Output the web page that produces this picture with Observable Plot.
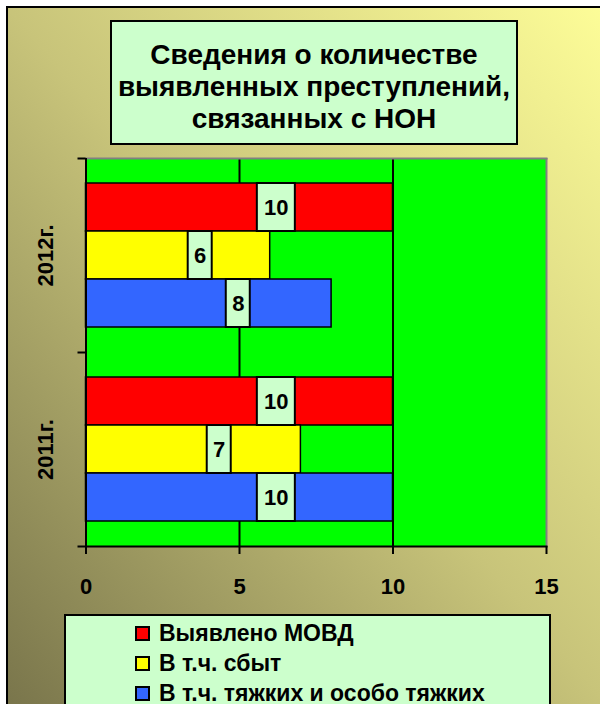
<!DOCTYPE html>
<html>
<head>
<meta charset="utf-8">
<script src="https://cdn.jsdelivr.net/npm/d3@7"></script>
<script src="https://cdn.jsdelivr.net/npm/@observablehq/plot@0.6"></script>
<style>
  html, body { margin: 0; padding: 0; width: 600px; height: 704px; overflow: hidden; background: #fff; }
  body { position: relative; font-family: "Liberation Sans", Arial, sans-serif; }
  #bg { position: absolute; left: 6px; top: 6px; width: 620px; height: 720px; box-sizing: border-box;
        border-left: 2px solid #000; border-top: 2px solid #000;
        background: linear-gradient(to top right, #77734a 0%, #c8c47a 50%, #ffff99 100%); }
  #title { position: absolute; left: 110px; top: 20px; width: 408px; height: 125px; box-sizing: border-box;
           border: 2px solid #000; background: #ccffcc; text-align: center;
           font-weight: bold; font-size: 28px; line-height: 32px; padding-top: 17px; color: #000; }
  #chart { position: absolute; left: 0; top: 150px; }
  #legend { position: absolute; left: 64px; top: 614px; width: 487px; height: 110px; box-sizing: border-box;
            border: 2px solid #000; background: #ccffcc; padding-top: 2px; }
  .item { height: 30px; font-weight: bold; font-size: 23px; color: #000; display: flex; align-items: center; }
  .item span.t { line-height: 1; }
  .sw { width: 15px; height: 15px; box-sizing: border-box; border: 2px solid #000; margin-left: 69px; margin-right: 9px; }
</style>
</head>
<body>
<div id="bg"></div>
<div id="title"></div>
<div id="chart"></div>
<div id="legend"></div>
<script>
// ---- data ----
const titleLines = ["Сведения о количестве", "выявленных преступлений,", "связанных с НОН"];
const years = ["2012г.", "2011г."];
const series = ["Выявлено МОВД", "В т.ч. сбыт", "В т.ч. тяжких и особо тяжких"];
const colors = ["#ff0000", "#ffff00", "#3366ff"];
const values2012 = [10, 6, 8];
const values2011 = [10, 7, 10];
const xTicks = [0, 5, 10, 15];

// ---- table ----
const valuesByYear = {"2012г.": values2012, "2011г.": values2011};
const table = years.flatMap(year => series.map((s, i) => ({year, series: s, value: valuesByYear[year][i]})));

// ---- layout / style ----
const W = 600, H = 450, mTop = 8, mBottom = 54, mLeft = 85.5, mRight = 54;
const bandH = (H - mTop - mBottom) / years.length;
const LABEL_AT = 0.62; // value labels sit a bit right of bar centre, as in the original
const font = "Liberation Sans, Arial, sans-serif";
const labelX = d => d.value * LABEL_AT;

document.getElementById("title").innerHTML = titleLines.join("<br>");

const chart = Plot.plot({
  width: W, height: H,
  marginTop: mTop, marginBottom: mBottom, marginLeft: mLeft, marginRight: mRight,
  style: {fontFamily: font, background: "transparent", overflow: "visible"},
  x: {domain: [xTicks[0], xTicks[xTicks.length - 1]], axis: null},
  y: {domain: series, paddingInner: 0, paddingOuter: 0.5, axis: null},
  fy: {domain: years, padding: 0, axis: null},
  color: {domain: series, range: colors},
  marks: [
    Plot.frame({fill: "#00ff00", stroke: "none", facet: "super"}),
    Plot.ruleX(xTicks.slice(1, -1), {stroke: "#000", strokeWidth: 2}),
    Plot.barX(table, {x: "value", y: "series", fy: "year", fill: "series", stroke: "#000", strokeWidth: 1.5}),
    Plot.barX(table.filter(d => String(d.value).length > 1), {x1: labelX, x2: labelX, y: "series", fy: "year",
      insetLeft: -19, insetRight: -19, fill: "#ccffcc", stroke: "#000", strokeWidth: 2}),
    Plot.barX(table.filter(d => String(d.value).length === 1), {x1: labelX, x2: labelX, y: "series", fy: "year",
      insetLeft: -12, insetRight: -12, fill: "#ccffcc", stroke: "#000", strokeWidth: 2}),
    Plot.text(table, {x: labelX, y: "series", fy: "year", text: d => String(d.value),
      fontSize: 22, fontWeight: "bold", fill: "#000"}),
    Plot.ruleX([xTicks[xTicks.length - 1]], {stroke: "#808080", strokeWidth: 2}),
    Plot.frame({anchor: "top", facet: "super", stroke: "#808080", strokeWidth: 2}),
    Plot.ruleX([xTicks[0]], {stroke: "#000", strokeWidth: 2}),
    Plot.frame({anchor: "bottom", facet: "super", stroke: "#000", strokeWidth: 2}),
    Plot.axisX({ticks: xTicks, tickSize: 8, tickPadding: 24, strokeWidth: 2, fontSize: 22, fontWeight: "bold",
      fill: "#000", label: null, tickFormat: d => String(d)}),
    Plot.axisFy({anchor: "left", ticks: years, tickSize: 8, text: null, strokeWidth: 2, dy: -bandH / 2, label: null}),
    Plot.axisFy({anchor: "left", ticks: years.slice(-1), tickSize: 8, text: null, strokeWidth: 2, dy: bandH / 2, label: null}),
    Plot.text(years, {fy: d => d, text: d => d, frameAnchor: "left", dx: -40, rotate: -90,
      textAnchor: "middle", lineAnchor: "middle", fontSize: 22, fontWeight: "bold", fill: "#000"})
  ]
});
document.getElementById("chart").appendChild(chart);

// ---- legend ----
const legend = document.getElementById("legend");
series.forEach((s, i) => {
  const row = document.createElement("div");
  row.className = "item";
  const sw = document.createElement("span");
  sw.className = "sw";
  sw.style.background = colors[i];
  const t = document.createElement("span");
  t.className = "t";
  t.textContent = s;
  row.appendChild(sw); row.appendChild(t);
  legend.appendChild(row);
});
</script>
</body>
</html>
